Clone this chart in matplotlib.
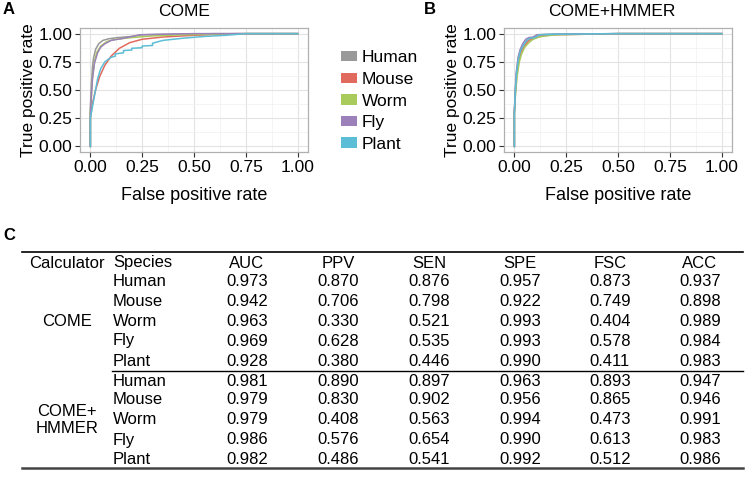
import matplotlib
matplotlib.use('Agg')
import matplotlib.pyplot as plt
from matplotlib.patches import Patch

species = ['Human', 'Mouse', 'Worm', 'Fly', 'Plant']
colors = ['#999999', '#E16A5E', '#A8CB5B', '#9C80BA', '#5CBDD6']

# ROC points (COME)
fpr_a = {
    'Human': [0, 0, 0.005, 0.01, 0.015, 0.025, 0.04, 0.06, 0.09, 0.13, 0.2, 0.25, 0.4, 0.6, 1],
    'Mouse': [0, 0, 0.01, 0.025, 0.045, 0.07, 0.1, 0.14, 0.19, 0.25, 0.35, 0.5, 0.7, 1],
    'Worm': [0, 0, 0.01, 0.02, 0.03, 0.05, 0.08, 0.12, 0.2, 0.3, 0.45, 0.6, 0.75, 1],
    'Fly': [0, 0, 0.01, 0.02, 0.035, 0.05, 0.07, 0.1, 0.15, 0.24, 0.35, 0.5, 1],
    'Plant': [0, 0, 0.01, 0.02, 0.035, 0.05, 0.07, 0.1, 0.12, 0.12, 0.16, 0.16, 0.2, 0.2,
              0.25, 0.25, 0.3, 0.3, 0.35, 0.45, 0.55, 0.65, 0.75, 1],
}
tpr_a = {
    'Human': [0, 0.35, 0.55, 0.7, 0.78, 0.86, 0.91, 0.94, 0.955, 0.965, 0.975, 0.99, 0.995, 1, 1],
    'Mouse': [0, 0.25, 0.38, 0.5, 0.62, 0.72, 0.8, 0.87, 0.92, 0.95, 0.97, 0.985, 1, 1],
    'Worm': [0, 0.3, 0.6, 0.75, 0.83, 0.89, 0.93, 0.95, 0.965, 0.98, 0.99, 0.995, 1, 1],
    'Fly': [0, 0.3, 0.6, 0.74, 0.83, 0.88, 0.91, 0.94, 0.955, 0.99, 0.995, 1, 1],
    'Plant': [0, 0.25, 0.35, 0.45, 0.6, 0.69, 0.75, 0.79, 0.8, 0.82, 0.83, 0.85, 0.855, 0.87,
              0.875, 0.89, 0.895, 0.915, 0.94, 0.96, 0.975, 0.985, 1, 1],
}

# ROC points (COME+HMMER)
fpr_b = {
    'Human': [0, 0, 0.005, 0.01, 0.02, 0.03, 0.045, 0.06, 0.075, 0.1, 0.11, 0.2, 0.5, 1],
    'Mouse': [0, 0, 0.006, 0.012, 0.022, 0.033, 0.05, 0.065, 0.08, 0.1, 0.13, 0.2, 0.5, 1],
    'Worm': [0, 0, 0.006, 0.013, 0.024, 0.035, 0.05, 0.07, 0.09, 0.12, 0.15, 0.2, 0.5, 1],
    'Fly': [0, 0, 0.005, 0.01, 0.018, 0.028, 0.04, 0.055, 0.07, 0.09, 0.11, 0.2, 0.5, 1],
    'Plant': [0, 0, 0.005, 0.011, 0.02, 0.03, 0.045, 0.06, 0.075, 0.1, 0.12, 0.2, 0.5, 1],
}
tpr_b = {
    'Human': [0, 0.3, 0.5, 0.65, 0.78, 0.85, 0.9, 0.94, 0.96, 0.965, 0.99, 0.995, 1, 1],
    'Mouse': [0, 0.3, 0.5, 0.64, 0.77, 0.84, 0.89, 0.93, 0.95, 0.96, 0.98, 0.99, 1, 1],
    'Worm': [0, 0.3, 0.48, 0.62, 0.75, 0.82, 0.88, 0.92, 0.95, 0.97, 0.98, 0.99, 1, 1],
    'Fly': [0, 0.3, 0.52, 0.67, 0.79, 0.86, 0.91, 0.95, 0.965, 0.97, 0.99, 0.995, 1, 1],
    'Plant': [0, 0.3, 0.5, 0.66, 0.78, 0.85, 0.9, 0.94, 0.96, 0.965, 0.99, 0.995, 1, 1],
}

# Table values
metrics = ['AUC', 'PPV', 'SEN', 'SPE', 'FSC', 'ACC']
come = {
    'AUC': [0.973, 0.942, 0.963, 0.969, 0.928],
    'PPV': [0.870, 0.706, 0.330, 0.628, 0.380],
    'SEN': [0.876, 0.798, 0.521, 0.535, 0.446],
    'SPE': [0.957, 0.922, 0.993, 0.993, 0.990],
    'FSC': [0.873, 0.749, 0.404, 0.578, 0.411],
    'ACC': [0.937, 0.898, 0.989, 0.984, 0.983],
}
come_hmmer = {
    'AUC': [0.981, 0.979, 0.979, 0.986, 0.982],
    'PPV': [0.890, 0.830, 0.408, 0.576, 0.486],
    'SEN': [0.897, 0.902, 0.563, 0.654, 0.541],
    'SPE': [0.963, 0.956, 0.994, 0.990, 0.992],
    'FSC': [0.893, 0.865, 0.473, 0.613, 0.512],
    'ACC': [0.947, 0.946, 0.991, 0.983, 0.986],
}

plt.rcParams['font.family'] = ['Liberation Sans', 'DejaVu Sans']
narrow = ['Liberation Sans Narrow', 'Liberation Sans', 'DejaVu Sans']

W, H = 752, 483
fig = plt.figure(figsize=(7.52, 4.83), dpi=100)


def box(l, t, r, b):
    return [l / W, 1 - b / H, (r - l) / W, (b - t) / H]


# full-figure axes in pixel units for table and labels
tab = fig.add_axes([0, 0, 1, 1], zorder=-1)
tab.set_xlim(0, W)
tab.set_ylim(H, 0)
tab.axis('off')

axA = fig.add_axes(box(80, 28, 308, 152))
axB = fig.add_axes(box(504, 28, 732, 152))

for ax, fx, ty in [(axA, fpr_a, tpr_a), (axB, fpr_b, tpr_b)]:
    for sp, c in zip(species, colors):
        ax.plot(fx[sp], ty[sp], color=c, lw=1.1)
    ax.set_xlim(-0.05, 1.05)
    ax.set_ylim(-0.05, 1.05)
    ticks = [0, 0.25, 0.5, 0.75, 1]
    ax.set_xticks(ticks)
    ax.set_yticks(ticks)
    ax.set_xticklabels(['0.00', '0.25', '0.50', '0.75', '1.00'])
    ax.set_yticklabels(['0.00', '0.25', '0.50', '0.75', '1.00'])
    ax.set_xticks([0.125, 0.375, 0.625, 0.875], minor=True)
    ax.set_yticks([0.125, 0.375, 0.625, 0.875], minor=True)
    ax.tick_params(which='minor', length=0)
    ax.tick_params(which='major', length=3.5, width=0.8, color='#333333',
                   labelsize=12.5, pad=2, labelcolor='black')
    ax.grid(which='major', color='#e3e3e3', lw=0.8)
    ax.grid(which='minor', color='#f0f0f0', lw=0.5)
    ax.set_axisbelow(True)
    for s in ax.spines.values():
        s.set_color('#b0b0b0')
        s.set_linewidth(0.9)
    ax.set_xlabel('False positive rate', fontsize=13, labelpad=9)
    ax.set_ylabel('True positive rate', fontsize=12.5, labelpad=2)

handles = [Patch(facecolor=c, edgecolor='none', label=sp) for sp, c in zip(species, colors)]
fig.legend(handles=handles, loc='center left', bbox_to_anchor=(334 / W, 1 - 101 / H),
           frameon=False, fontsize=12.5, handlelength=0.9, handleheight=0.55,
           handletextpad=0.3, labelspacing=0.38, borderaxespad=0)

# panel labels and titles
tab.text(3, 10, 'A', fontsize=12, fontweight='bold', va='center')
tab.text(424, 10, 'B', fontsize=12, fontweight='bold', va='center')
tab.text(3, 236, 'C', fontsize=12, fontweight='bold', va='center')
tab.text(184, 12, 'COME', fontsize=12.5, ha='center', va='center')
tab.text(612, 12, 'COME+HMMER', fontsize=12.5, ha='center', va='center')

# table
col_x = [247, 338, 429, 520, 610, 700]
row_y1 = [282, 302, 321, 341, 361]
row_y2 = [381, 400, 420, 440, 459]
fs = 12
tab.plot([22, 743], [252, 252], color='black', lw=1.2)
tab.plot([112, 743], [370.5, 370.5], color='black', lw=1.0)
tab.plot([22, 743], [468, 468], color='#444444', lw=1.8)
tab.text(67, 263, 'Calculator', family=narrow, fontsize=fs, ha='center', va='center')
tab.text(113, 263, 'Species', family=narrow, fontsize=fs, ha='left', va='center')
for m, x in zip(metrics, col_x):
    tab.text(x, 263, m, family=narrow, fontsize=fs, ha='center', va='center')

tab.text(67, 321, 'COME', family=narrow, fontsize=fs, ha='center', va='center')
tab.text(67, 420, 'COME+\nHMMER', family=narrow, fontsize=fs, ha='center', va='center',
         linespacing=1.1)

for vals, rows in [(come, row_y1), (come_hmmer, row_y2)]:
    for i, sp in enumerate(species):
        tab.text(113, rows[i], sp, family=narrow, fontsize=fs, ha='left', va='center')
        for m, x in zip(metrics, col_x):
            tab.text(x, rows[i], '%.3f' % vals[m][i], family=narrow, fontsize=fs,
                     ha='center', va='center')

fig.savefig('out.png', dpi=100)
